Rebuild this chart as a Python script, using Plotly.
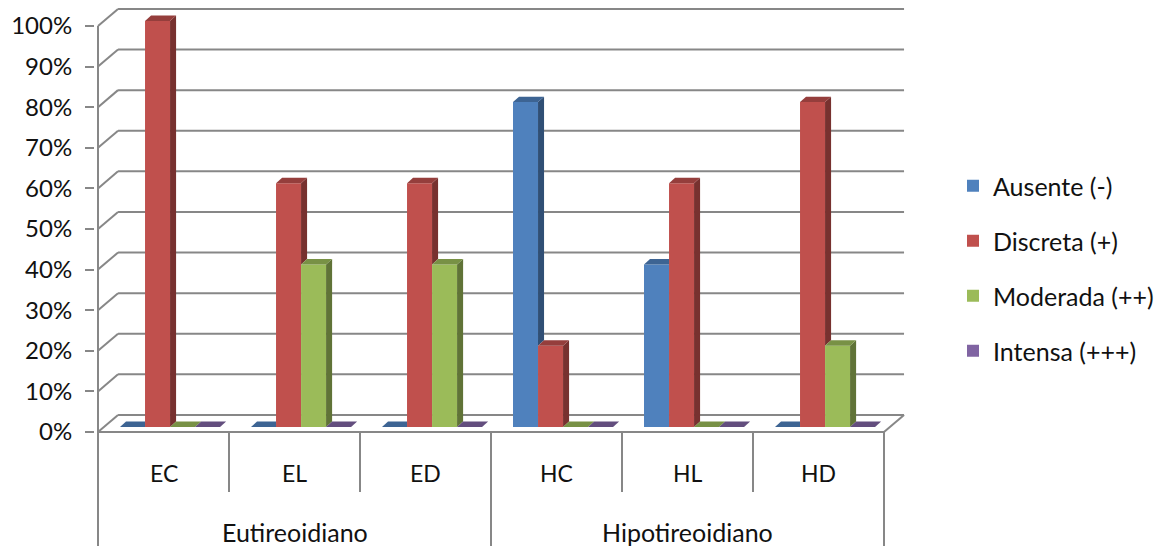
import plotly.graph_objects as go

# ---- data -------------------------------------------------------------
categories = ["EC", "EL", "ED", "HC", "HL", "HD"]
groups = ["Eutireoidiano", "Hipotireoidiano"]
group_size = 3

series_names = ["Ausente (-)", "Discreta (+)", "Moderada (++)", "Intensa (+++)"]
ausente = [0, 0, 0, 80, 40, 0]
discreta = [100, 60, 60, 20, 60, 80]
moderada = [0, 40, 40, 0, 0, 20]
intensa = [0, 0, 0, 0, 0, 0]
series_values = [ausente, discreta, moderada, intensa]

y_ticks = [0, 10, 20, 30, 40, 50, 60, 70, 80, 90, 100]

# ---- styling ----------------------------------------------------------
base_colors = ["#4F81BD", "#C0504D", "#9BBB59", "#8064A2"]


def shade(hex_color, f):
    r, g, b = (int(hex_color[i:i + 2], 16) for i in (1, 3, 5))
    return "#%02x%02x%02x" % (int(r * f), int(g * f), int(b * f))


side_colors = [shade(c, 0.62) for c in base_colors]
top_colors = [shade(c, 0.78) for c in base_colors]

FONT = "Lato, 'Liberation Sans', sans-serif"
GRID = "#878787"

# pseudo-3D geometry (x in category units, y in percent)
WALL_DX, WALL_DY = 0.153, 4.2      # depth of the back wall
BAR_SX, BAR_SY = 0.05, 1.25        # bars sit slightly behind the front plane
BAR_W = 0.191                      # bar width
BAR_DX, BAR_DY = 0.046, 1.35       # bar depth
n_cat = len(categories)
n_ser = len(series_values)
Y_MIN, Y_MAX = -28.08, 106.4

fig = go.Figure()

# front faces of the columns
for k, (name, vals) in enumerate(zip(series_names, series_values)):
    xs = [i + 0.5 + (k - (n_ser - 1) / 2) * BAR_W + BAR_SX for i in range(n_cat)]
    fig.add_trace(go.Bar(
        x=xs, y=vals, base=BAR_SY, width=BAR_W, name=name,
        marker=dict(color=base_colors[k], line=dict(width=0)),
        legendgroup=name, customdata=categories,
        hovertemplate="%{customdata}: %{y}%<extra>" + name + "</extra>",
    ))


def poly(xs, ys, color):
    fig.add_trace(go.Scatter(
        x=xs + [xs[0]], y=ys + [ys[0]], mode="lines", fill="toself",
        fillcolor=color, line=dict(width=0, color=color),
        hoverinfo="skip", showlegend=False,
    ))


# side and top faces, trimmed where the neighbouring column hides them
for i in range(n_cat):
    for k in range(n_ser):
        v = series_values[k][i]
        x0 = i + 0.5 + (k - n_ser / 2) * BAR_W + BAR_SX
        x1 = x0 + BAR_W
        b = BAR_SY
        t = b + v
        v_next = series_values[k + 1][i] if k < n_ser - 1 else 0
        low = b + v_next if k < n_ser - 1 else b
        if low < t:
            poly([x1, x1 + BAR_DX, x1 + BAR_DX, x1],
                 [low, low + BAR_DY, t + BAR_DY, t], side_colors[k])
        if k < n_ser - 1 and v_next > v:
            poly([x0, x1, x1, x0 + BAR_DX],
                 [t, t, t + BAR_DY, t + BAR_DY], top_colors[k])
        else:
            poly([x0, x1, x1 + BAR_DX, x0 + BAR_DX],
                 [t, t, t + BAR_DY, t + BAR_DY], top_colors[k])

# back wall gridlines, side-wall connectors, floor and category dividers
shapes = []
line = dict(color=GRID, width=2)
for v in y_ticks:
    shapes.append(dict(type="line", xref="x", yref="y", layer="below",
                       x0=WALL_DX, x1=n_cat + WALL_DX, y0=v + WALL_DY, y1=v + WALL_DY, line=line))
    shapes.append(dict(type="line", xref="x", yref="y", layer="below",
                       x0=0, x1=WALL_DX, y0=v, y1=v + WALL_DY, line=line))
shapes.append(dict(type="line", xref="x", yref="y", layer="below",
                   x0=0, x1=n_cat, y0=0, y1=0, line=line))
shapes.append(dict(type="line", xref="x", yref="y", layer="below",
                   x0=n_cat, x1=n_cat + WALL_DX, y0=0, y1=WALL_DY, line=line))
shapes.append(dict(type="line", xref="x", yref="y", layer="below",
                   x0=0, x1=0, y0=y_ticks[-1], y1=Y_MIN, line=line))
for j in range(1, n_cat + 1):
    long_div = j % group_size == 0
    shapes.append(dict(type="line", xref="x", yref="y", layer="below",
                       x0=j, x1=j, y0=0, y1=Y_MIN if long_div else -14.8, line=line))

annotations = []
for i, c in enumerate(categories):
    annotations.append(dict(x=i + 0.5, y=-10.1, xref="x", yref="y", text=c,
                            showarrow=False, font=dict(size=23, color="#111", family=FONT)))
for g, name in enumerate(groups):
    annotations.append(dict(x=g * group_size + group_size / 2, y=-24.6, xref="x", yref="y",
                            text=name, showarrow=False,
                            font=dict(size=25, color="#111", family=FONT)))

fig.update_layout(
    width=1165, height=546,
    margin=dict(l=95, r=245, t=0, b=0),
    paper_bgcolor="white", plot_bgcolor="white",
    barmode="overlay",
    font=dict(family=FONT, size=22, color="#111"),
    shapes=shapes, annotations=annotations,
    xaxis=dict(range=[-3 / 131, (1165 - 245 - 95 - 3) / 131], showgrid=False,
               zeroline=False, showticklabels=False, showline=False, fixedrange=True),
    yaxis=dict(range=[Y_MIN, Y_MAX], tickvals=y_ticks,
               ticktext=[f"{v}%" for v in y_ticks], ticks="outside", ticklen=9,
               tickcolor=GRID, tickwidth=2, ticklabelstandoff=8,
               showgrid=False, zeroline=False, showline=False, fixedrange=True,
               tickfont=dict(size=24, color="#111", family=FONT)),
    legend=dict(xref="container", yref="container", x=953 / 1165, y=1 - 163 / 546,
                xanchor="left", yanchor="top", tracegroupgap=19.5,
                font=dict(size=25, color="#111", family=FONT),
                bgcolor="rgba(0,0,0,0)", itemwidth=30),
    showlegend=True,
)

fig.write_html("out.html")
